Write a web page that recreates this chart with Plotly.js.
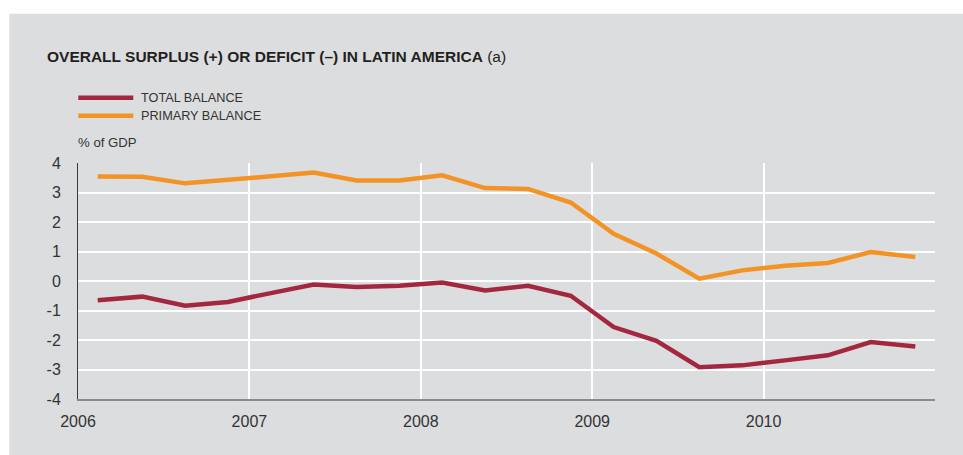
<!DOCTYPE html>
<html>
<head>
<meta charset="utf-8">
<script src="https://cdn.plot.ly/plotly-3.0.1.min.js"></script>
<style>
  html, body { margin: 0; padding: 0; background: #ffffff; }
  #chart { width: 963px; height: 455px; }
</style>
</head>
<body>
<div id="chart"></div>
<script>
// Quarterly observations, 2006 Q1 – 2010 Q4 (placed at mid-quarter)
const quarters = [
  2006.115, 2006.375, 2006.625, 2006.875,
  2007.125, 2007.375, 2007.625, 2007.875,
  2008.125, 2008.375, 2008.625, 2008.875,
  2009.125, 2009.375, 2009.625, 2009.875,
  2010.125, 2010.375, 2010.625, 2010.885
];
const totalBalance = [
  -0.65, -0.53, -0.84, -0.71,
  -0.41, -0.12, -0.20, -0.16,
  -0.05, -0.32, -0.16, -0.50,
  -1.56, -2.03, -2.92, -2.86,
  -2.69, -2.52, -2.07, -2.22
];
const primaryBalance = [
  3.54, 3.53, 3.31, 3.42,
  3.55, 3.68, 3.41, 3.41,
  3.58, 3.15, 3.12, 2.66,
  1.60, 0.93, 0.08, 0.36,
  0.52, 0.61, 0.98, 0.81
];
const xTickVals = [2006, 2007, 2008, 2009, 2010, 2011];
const xTickText = ['2006', '2007', '2008', '2009', '2010', ''];
const yTickVals = [-4, -3, -2, -1, 0, 1, 2, 3, 4];
const yTickText = ['-4', '-3', '-2', '-1', '0', '1', '2', '3', '4'];
const seriesNames = ['TOTAL BALANCE', 'PRIMARY BALANCE'];

const RED = '#a3283f';
const ORANGE = '#f39325';
const BG = '#dcdddf';
const TXT = '#333333';
const FONT = 'Liberation Sans, Arial, sans-serif';

const traces = [
  { x: quarters, y: totalBalance, name: seriesNames[0], type: 'scatter', mode: 'lines',
    line: { color: RED, width: 4.5 }, hoverinfo: 'x+y' },
  { x: quarters, y: primaryBalance, name: seriesNames[1], type: 'scatter', mode: 'lines',
    line: { color: ORANGE, width: 4.5 }, hoverinfo: 'x+y' }
];

// pixel helpers for paper coordinates
const W = 963, H = 455;
const M = { l: 77.7, r: 28.3, t: 163.3, b: 55.7 };
const PW = W - M.l - M.r, PH = H - M.t - M.b;
const px = v => (v - M.l) / PW;
const py = v => (H - M.b - v) / PH;

const layout = {
  width: W, height: H,
  margin: { l: M.l, r: M.r, t: M.t, b: M.b, pad: 0 },
  paper_bgcolor: '#ffffff',
  plot_bgcolor: BG,
  showlegend: false,
  font: { family: FONT, color: TXT, size: 16 },
  title: {
    text: '<b>OVERALL SURPLUS (+) OR DEFICIT (–) IN LATIN AMERICA</b> (a)',
    font: { family: FONT, size: 15.5, color: '#231f20' },
    xref: 'container', yref: 'container',
    x: 47 / W, xanchor: 'left',
    y: 1 - 57 / H, yanchor: 'middle'
  },
  xaxis: {
    type: 'linear', range: [2006, 2011],
    tickmode: 'array', tickvals: xTickVals, ticktext: xTickText,
    showgrid: true, gridcolor: '#ffffff', gridwidth: 1.5,
    zeroline: false, showline: true, linecolor: '#8a8a8a', linewidth: 2,
    ticks: '', ticklabelstandoff: 7,
    tickfont: { family: FONT, size: 16, color: TXT }
  },
  yaxis: {
    range: [-4, 4],
    tickmode: 'array', tickvals: yTickVals, ticktext: yTickText,
    showgrid: true, gridcolor: '#ffffff', gridwidth: 1.5,
    zeroline: false, showline: true, linecolor: '#3a3a3a', linewidth: 1,
    ticks: '', ticklabelstandoff: 13,
    tickfont: { family: FONT, size: 16, color: TXT }
  },
  shapes: [
    // grey panel
    { type: 'rect', xref: 'paper', yref: 'paper', layer: 'below',
      x0: px(9), x1: px(W + 2), y0: py(H + 2), y1: py(14),
      fillcolor: BG, line: { width: 0 } },
    // legend keys
    { type: 'line', xref: 'paper', yref: 'paper',
      x0: px(78), x1: px(133), y0: py(98), y1: py(98),
      line: { color: RED, width: 4.5 } },
    { type: 'line', xref: 'paper', yref: 'paper',
      x0: px(78), x1: px(133), y0: py(116), y1: py(116),
      line: { color: ORANGE, width: 4.5 } }
  ],
  annotations: [
    { xref: 'paper', yref: 'paper', x: px(139), y: py(98), xanchor: 'left', yanchor: 'middle',
      text: seriesNames[0], showarrow: false, font: { family: FONT, size: 12.7, color: TXT } },
    { xref: 'paper', yref: 'paper', x: px(139), y: py(116), xanchor: 'left', yanchor: 'middle',
      text: seriesNames[1], showarrow: false, font: { family: FONT, size: 12.7, color: TXT } },
    { xref: 'paper', yref: 'paper', x: px(76), y: py(143), xanchor: 'left', yanchor: 'middle',
      text: '% of GDP', showarrow: false, font: { family: FONT, size: 13.2, color: TXT } }
  ]
};

Plotly.newPlot('chart', traces, layout, { displayModeBar: false });
</script>
</body>
</html>
